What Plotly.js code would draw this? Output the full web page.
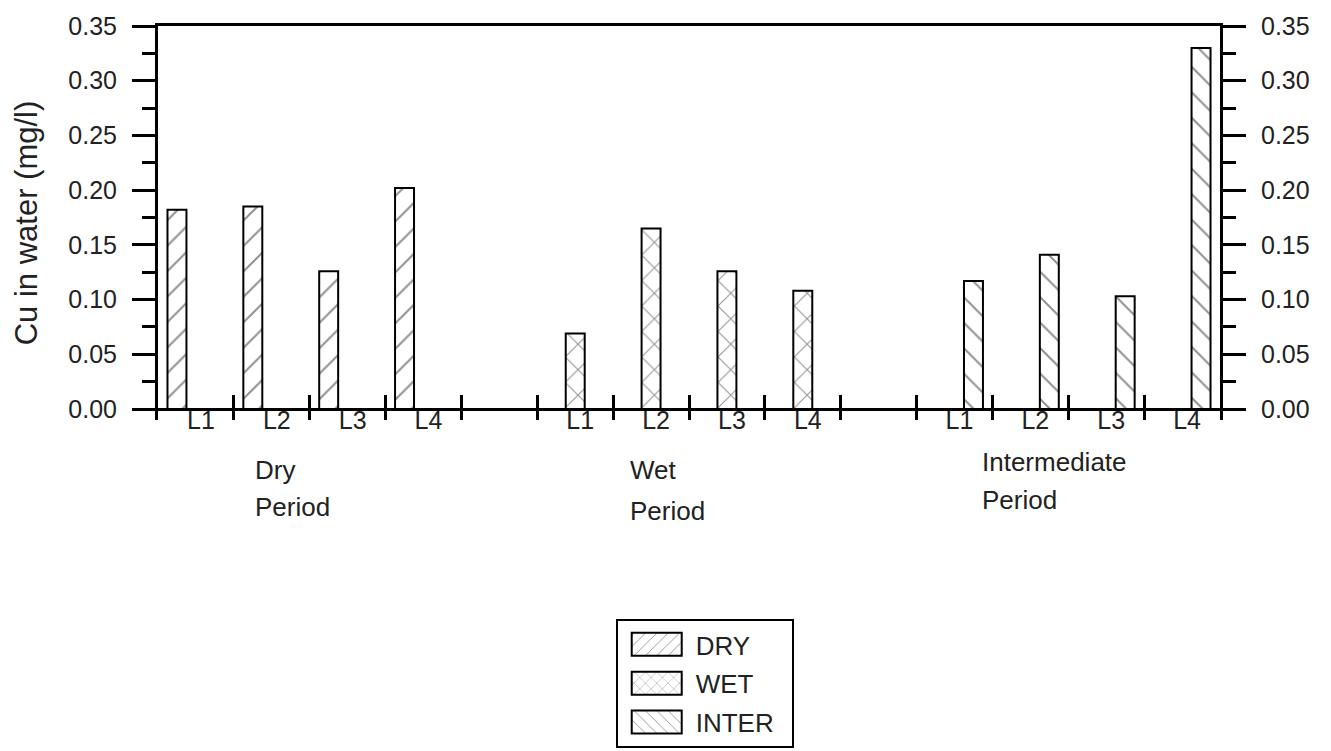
<!DOCTYPE html>
<html><head><meta charset="utf-8">
<script src="https://cdn.plot.ly/plotly-3.0.1.min.js"></script>
<style>html,body{margin:0;padding:0;background:#fff;} #chart{width:1331px;height:751px;}</style>
</head><body><div id="chart"></div>
<script>
// ---- data ----
const sites = ["L1", "L2", "L3", "L4"];
const periodNames = ["Dry", "Wet", "Intermediate"];
const periodSecondLine = "Period";
const seriesNames = ["DRY", "WET", "INTER"];
const dryValues = [0.182, 0.185, 0.126, 0.202];
const wetValues = [0.069, 0.165, 0.126, 0.108];
const interValues = [0.117, 0.141, 0.103, 0.330];
const yTickValues = [0, 0.05, 0.10, 0.15, 0.20, 0.25, 0.30, 0.35];
const yTickLabels = ["0.00", "0.05", "0.10", "0.15", "0.20", "0.25", "0.30", "0.35"];
const yAxisTitle = "Cu in water (mg/l)";

// ---- layout helpers ----
const groupStart = [0, 5, 10];
const nSlots = 14;
const seriesValues = [dryValues, wetValues, interValues];
const patternShapes = ["/", "x", "\\"];
const barAxes = [["x", "y"], ["x2", "y"], ["x3", "y2"]];
const barWidth = 0.25;
const FONT = "Liberation Sans, Arial, sans-serif";
const INK = "#222";
const yRange = [-0.01, 0.35];

const traces = seriesValues.map((vals, g) => ({
  type: "bar",
  name: seriesNames[g],
  legendgroup: "g" + g,
  x: sites.map((s, i) => groupStart[g] + i + 0.5),
  y: vals,
  xaxis: barAxes[g][0], yaxis: barAxes[g][1],
  width: barWidth,
  offset: -1.5 * barWidth + g * barWidth,
  marker: {
    color: "#fff",
    line: {color: "#000", width: 2},
    pattern: {shape: patternShapes[g], fgcolor: "#222", bgcolor: "#fff", size: 18, solidity: 0.11, fillmode: "overlay"}
  },
  hoverinfo: "skip"
}));

const labelVals = [], labelText = [];
groupStart.forEach(gs => sites.forEach((s, i) => { labelVals.push(gs + i + 0.5); labelText.push(s); }));

// period label placement (data x, paper y)
const periodX = [1.25, 6.2, 10.84];
const periodY1 = [-0.127, -0.127, -0.107];
const periodY2 = [-0.221, -0.231, -0.203];
const annotations = [];
periodNames.forEach((p, k) => {
  annotations.push({xref: "x", yref: "paper", x: periodX[k], y: periodY1[k], xanchor: "left", yanchor: "middle", text: p, showarrow: false, font: {family: FONT, size: 26, color: INK}});
  annotations.push({xref: "x", yref: "paper", x: periodX[k], y: periodY2[k], xanchor: "left", yanchor: "middle", text: periodSecondLine, showarrow: false, font: {family: FONT, size: 26, color: INK}});
});

const yCommon = {
  range: yRange, tickmode: "array", tickvals: yTickValues, ticktext: yTickLabels,
  ticks: "outside", ticklen: 23, tickwidth: 3, tickcolor: "#000",
  minor: {ticks: "outside", ticklen: 13, tickwidth: 3, tickcolor: "#000", tickmode: "linear", tick0: 0.025, dtick: 0.05},
  showline: true, linecolor: "#000", linewidth: 3, showgrid: false,
  zeroline: true, zerolinecolor: "#000", zerolinewidth: 3,
  tickfont: {family: FONT, size: 25, color: INK},
  ticklabelstandoff: 10
};

const xHidden = {range: [0, nSlots], showgrid: false, zeroline: false, fixedrange: true};

const layout = {
  width: 1331, height: 751,
  margin: {l: 158, r: 111, t: 26, b: 331},
  paper_bgcolor: "#fff", plot_bgcolor: "#fff",
  barmode: "overlay",
  showlegend: true,
  legend: {
    xref: "paper", yref: "container",
    x: 0.431, y: 0.1758, xanchor: "left", yanchor: "top",
    bordercolor: "#000", borderwidth: 2, bgcolor: "#fff",
    font: {family: FONT, size: 26, color: INK},
    traceorder: "grouped", tracegroupgap: 2, itemwidth: 68
  },
  xaxis: Object.assign({}, xHidden, {
    tickmode: "linear", tick0: 0, dtick: 1,
    ticks: "inside", ticklen: 25, tickwidth: 3, tickcolor: "#000",
    showticklabels: false, showline: false
  }),
  xaxis2: Object.assign({}, xHidden, {
    overlaying: "x", anchor: "y", side: "top",
    ticks: "", showticklabels: false,
    showline: true, linecolor: "#000", linewidth: 3
  }),
  xaxis3: Object.assign({}, xHidden, {
    overlaying: "x", anchor: "free", position: 0.044, side: "bottom",
    tickmode: "array", tickvals: labelVals, ticktext: labelText, ticks: "",
    ticklabelshift: 5,
    tickfont: {family: FONT, size: 25, color: INK},
    showline: false
  }),
  yaxis: Object.assign({}, yCommon, {
    side: "left", automargin: true,
    title: {text: yAxisTitle, standoff: 22, font: {family: FONT, size: 31, color: INK}}
  }),
  yaxis2: Object.assign({}, yCommon, {overlaying: "y", side: "right", anchor: "x", zeroline: false}),
  annotations: annotations
};

Plotly.newPlot("chart", traces, layout, {staticPlot: true}).then(gd => {
  // widen legend swatches to rectangles like the original key
  gd.querySelectorAll(".legend .legendpoints path").forEach(p => {
    p.setAttribute("d", "M25,11.5H-25V-11.5H25Z");
  });
  gd.querySelectorAll(".legend rect.bg").forEach(r => {
    r.setAttribute("width", "176");
  });
});
</script>
</body></html>
